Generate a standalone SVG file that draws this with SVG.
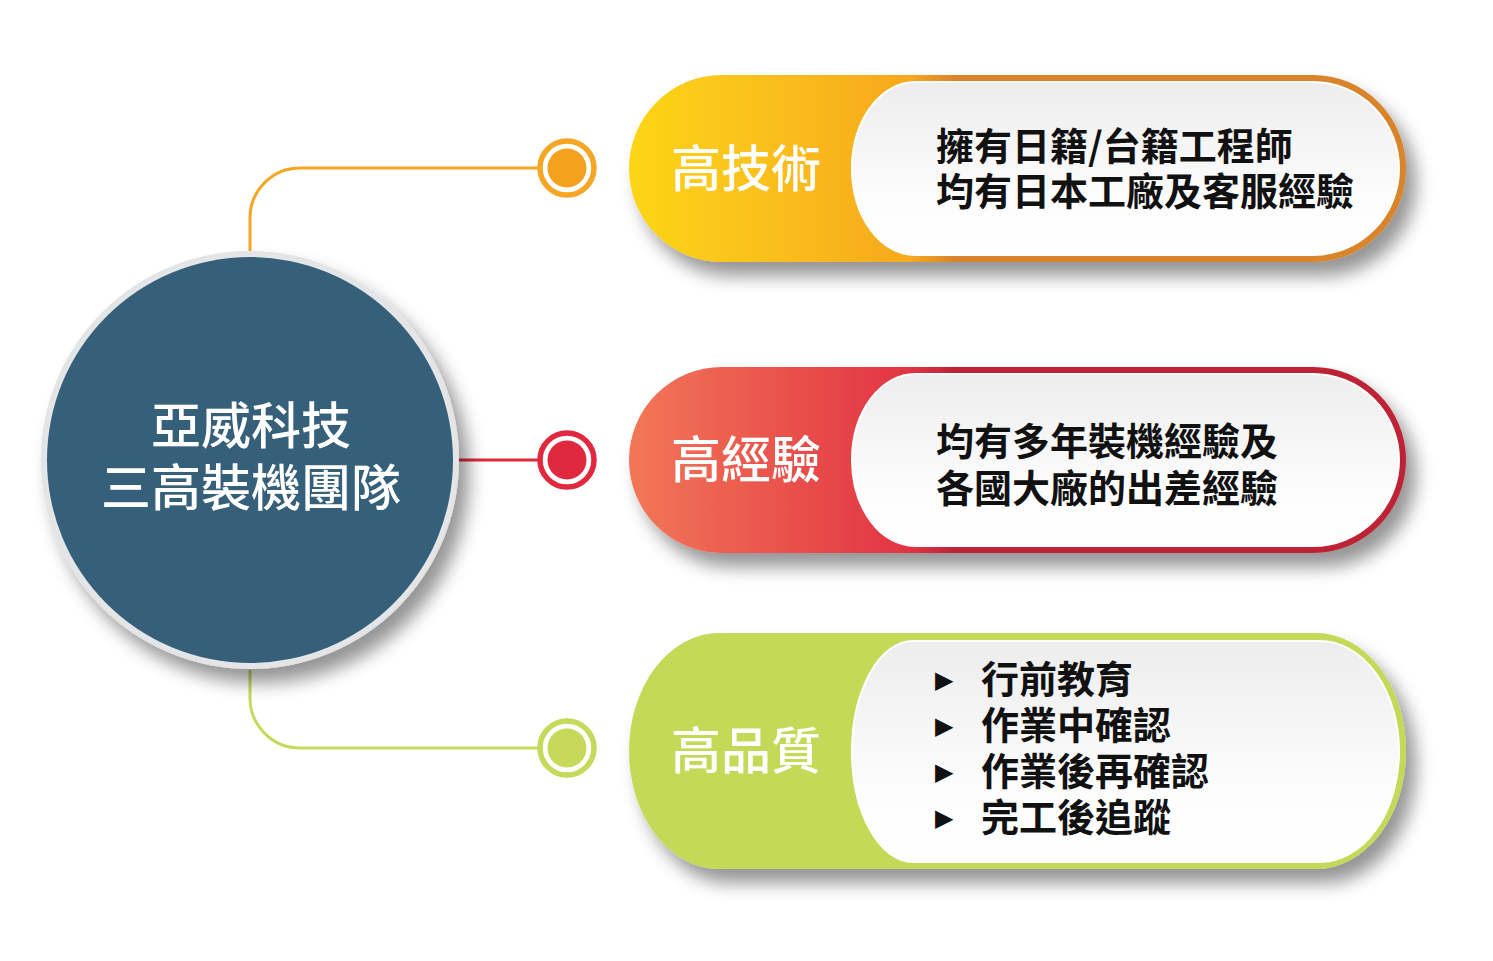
<svg xmlns="http://www.w3.org/2000/svg" width="1493" height="961" viewBox="0 0 1493 961">
<style>
.lbl{font-family:"Noto Sans CJK TC","Noto Sans CJK SC",sans-serif;font-size:50px;font-weight:500;fill:#ffffff}
.desc{font-family:"Noto Sans CJK TC","Noto Sans CJK SC",sans-serif;font-size:38px;font-weight:700;fill:#111111}
.bul{font-family:"DejaVu Sans",sans-serif;font-size:24px;fill:#111111}
.hub{font-family:"Noto Sans CJK TC","Noto Sans CJK SC",sans-serif;font-size:50px;font-weight:500;fill:#ffffff;text-anchor:middle}
.conn{fill:none;stroke-width:3}
.ring{fill:#ffffff;stroke-width:5.5}
.inner{fill:url(#wg);stroke:#ffffff;stroke-width:2}
</style>
<defs>
<filter id="sh" x="-10%" y="-20%" width="130%" height="160%">
<feGaussianBlur in="SourceAlpha" stdDeviation="9"/>
<feOffset dx="10" dy="14" result="b"/>
<feComponentTransfer><feFuncA type="linear" slope="0.42"/></feComponentTransfer>
<feMerge><feMergeNode/><feMergeNode in="SourceGraphic"/></feMerge>
</filter>
<linearGradient id="gTech" x1="0" y1="0" x2="1" y2="0">
<stop offset="0" stop-color="#FDD518"/>
<stop offset="0.36" stop-color="#F7A91F"/>
<stop offset="0.42" stop-color="#D9842B"/>
<stop offset="1" stop-color="#D9842B"/>
</linearGradient>
<linearGradient id="gExp" x1="0" y1="0" x2="1" y2="0">
<stop offset="0" stop-color="#F27757"/>
<stop offset="0.36" stop-color="#E23443"/>
<stop offset="0.42" stop-color="#BE2334"/>
<stop offset="1" stop-color="#BE2334"/>
</linearGradient>
<linearGradient id="wg" x1="0" y1="0" x2="0" y2="1">
<stop offset="0" stop-color="#EDEDED"/>
<stop offset="0.7" stop-color="#FDFDFD"/>
<stop offset="1" stop-color="#FFFFFF"/>
</linearGradient>
<radialGradient id="hubRing" cx="0.5" cy="0.5" r="0.5">
<stop offset="0.9" stop-color="#EEEFF0"/>
<stop offset="1" stop-color="#E2E3E4"/>
</radialGradient>
</defs>

<g id="connectors">
<path class="conn" stroke="#F5A623" d="M250,251 V218 A50 50 0 0 1 300,168 H540"/>
<path class="conn" stroke="#E0293E" d="M458,460 H540"/>
<path class="conn" stroke="#C6D95A" d="M250,670 V698 A50 50 0 0 0 300,748 H540"/>
</g>

<g id="hub">
<circle cx="250" cy="460" r="209" fill="url(#hubRing)" filter="url(#sh)"/>
<circle cx="250" cy="460" r="203" fill="#365F79"/>
<text class="hub" x="251" y="444">亞威科技</text>
<text class="hub" x="251" y="506">三高裝機團隊</text>
</g>

<g id="dot-tech">
<circle class="ring" cx="567" cy="168" r="27" stroke="#F5A623"/>
<circle cx="567" cy="168" r="19.5" fill="#F4A11F"/>
</g>
<g id="dot-exp">
<circle class="ring" cx="567" cy="460" r="27" stroke="#E0293E"/>
<circle cx="567" cy="460" r="19.5" fill="#E0293E"/>
</g>
<g id="dot-qual">
<circle class="ring" cx="567" cy="748" r="27" stroke="#C6D95A"/>
<circle cx="567" cy="748" r="19.5" fill="#C6D95A"/>
</g>

<g id="pill-tech">
<rect x="629" y="75" width="777" height="187" rx="93" ry="93.5" fill="url(#gTech)" filter="url(#sh)"/>
<path class="inner" d="M915,82 H1313 A86 86.5 0 0 1 1313,255 H915 A63 86.5 0 0 1 915,82 Z"/>
<text class="lbl" x="671" y="187">高技術</text>
<text class="desc" x="936" y="160">擁有日籍/台籍工程師</text>
<text class="desc" x="936" y="205">均有日本工廠及客服經驗</text>
</g>

<g id="pill-exp">
<rect x="629" y="367" width="777" height="186" rx="93" ry="93" fill="url(#gExp)" filter="url(#sh)"/>
<path class="inner" d="M915,374 H1313 A86 86 0 0 1 1313,546 H915 A63 86 0 0 1 915,374 Z"/>
<text class="lbl" x="671" y="478">高經驗</text>
<text class="desc" x="936" y="455">均有多年裝機經驗及</text>
<text class="desc" x="936" y="502">各國大廠的出差經驗</text>
</g>

<g id="pill-qual">
<rect x="629" y="633" width="777" height="236" rx="90" ry="118" fill="#C5D958" filter="url(#sh)"/>
<path class="inner" d="M913,641 H1320 A79 110.5 0 0 1 1320,862 H913 A61 110.5 0 0 1 913,641 Z"/>
<text class="lbl" x="671" y="769">高品質</text>
<text class="bul" x="935" y="688">▶</text>
<text class="desc" x="981" y="693">行前教育</text>
<text class="bul" x="935" y="734">▶</text>
<text class="desc" x="981" y="739">作業中確認</text>
<text class="bul" x="935" y="780">▶</text>
<text class="desc" x="981" y="785">作業後再確認</text>
<text class="bul" x="935" y="826">▶</text>
<text class="desc" x="981" y="831">完工後追蹤</text>
</g>
</svg>
